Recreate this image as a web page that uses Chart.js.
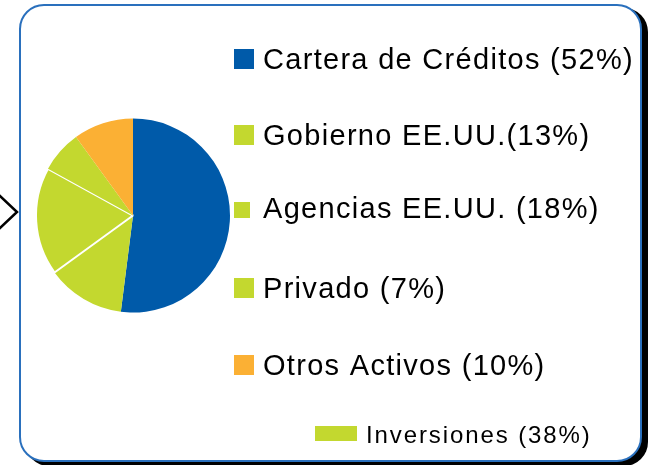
<!DOCTYPE html>
<html>
<head>
<meta charset="utf-8">
<script src="https://cdn.jsdelivr.net/npm/chart.js@4.4.1/dist/chart.umd.min.js"></script>
<style>
  html, body { margin: 0; padding: 0; background: #fff; }
  #wrap { width: 650px; height: 465px; }
</style>
</head>
<body>
<div id="wrap"><canvas id="pieChart" width="650" height="465"></canvas></div>
<script>
// slice data
const categories = ['Cartera de Créditos', 'Gobierno EE.UU.', 'Agencias EE.UU.', 'Privado', 'Otros Activos'];
const shares = [52, 13, 18, 7, 10];
const labelGaps = [' ', '', ' ', ' ', ' '];
const sliceColors = ['#005aa9', '#c3d82f', '#c3d82f', '#c3d82f', '#fbb034'];
const sliceBorders = [0, 0, 2, 0, 0];

// group shown under the legend
const groupLabel = 'Inversiones';
const groupMembers = [1, 2, 3];

// background panel, chevron on the left
const panelPlugin = {
  id: 'panel',
  beforeDraw(chart) {
    const ctx = chart.ctx;
    ctx.save();
    // shadow
    ctx.fillStyle = '#000';
    ctx.beginPath();
    ctx.roundRect(25, 8, 623, 458, 24);
    ctx.fill();
    // panel
    ctx.fillStyle = '#fff';
    ctx.strokeStyle = '#2a70bd';
    ctx.lineWidth = 2;
    ctx.beginPath();
    ctx.roundRect(20, 5, 621, 456, 24);
    ctx.fill();
    ctx.stroke();
    // chevron
    ctx.strokeStyle = '#000';
    ctx.lineWidth = 2.5;
    ctx.beginPath();
    ctx.moveTo(-1, 195);
    ctx.lineTo(17, 212);
    ctx.lineTo(-1, 229);
    ctx.stroke();
    ctx.restore();
  }
};

// hand made legend on the right
const legendPlugin = {
  id: 'sideLegend',
  afterDraw(chart) {
    const ctx = chart.ctx;
    const ds = chart.data.datasets[0];
    const baselines = [69, 145, 218, 298, 375];
    ctx.save();
    ctx.textBaseline = 'alphabetic';
    ctx.textAlign = 'left';
    chart.data.labels.forEach((lab, i) => {
      const y = baselines[i];
      ctx.fillStyle = ds.backgroundColor[i];
      const sz = i === 2 ? 16 : 20;
      ctx.fillRect(234, y - sz, sz, sz);
      ctx.fillStyle = '#000';
      ctx.font = '29px "Liberation Sans", Arial, sans-serif';
      ctx.letterSpacing = '1.3px';
      ctx.fillText(lab + labelGaps[i] + '(' + ds.data[i] + '%)', 263, y);
    });
    const groupTotal = groupMembers.reduce((s, k) => s + ds.data[k], 0);
    ctx.fillStyle = sliceColors[1];
    ctx.fillRect(315, 426, 42, 15);
    ctx.fillStyle = '#000';
    ctx.font = '24px "Liberation Sans", Arial, sans-serif';
    ctx.letterSpacing = '1.9px';
    ctx.fillText(groupLabel + ' (' + groupTotal + '%)', 366, 443);
    ctx.restore();
  }
};

const chart = new Chart(document.getElementById('pieChart').getContext('2d'), {
  type: 'pie',
  data: {
    labels: categories,
    datasets: [{
      data: shares,
      backgroundColor: sliceColors,
      borderColor: '#fff',
      borderWidth: sliceBorders
    }]
  },
  options: {
    responsive: false,
    animation: false,
    layout: { padding: { left: 35, right: 419, top: 117, bottom: 151 } },
    plugins: {
      legend: { display: false },
      tooltip: { enabled: false }
    }
  },
  plugins: [panelPlugin, legendPlugin]
});
</script>
</body>
</html>
